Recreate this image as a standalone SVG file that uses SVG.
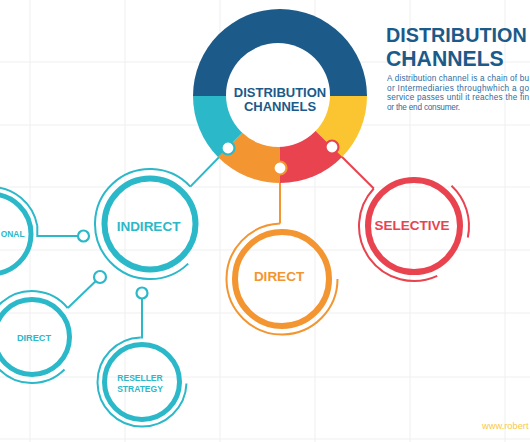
<svg xmlns="http://www.w3.org/2000/svg" width="530" height="442" viewBox="0 0 530 442">
<style>
.grid line{stroke:#efefef;stroke-width:1}
.lbl{font-family:"Liberation Sans",Arial,sans-serif;font-weight:bold;text-anchor:middle}
.thick{fill:none;stroke-width:6}
.thick5{fill:none;stroke-width:5}
.thin{fill:none;stroke-width:2}
.conn path{fill:none;stroke-width:2}
.sock{fill:#fff;stroke-width:2.2}
.cy{stroke:#2bb8c9}
.or{stroke:#f39530}
.rd{stroke:#e8434f}
.desc{font-family:"Liberation Sans",Arial,sans-serif;font-size:8.2px;fill:#2f6b9e}
.ttl{font-family:"Liberation Sans",Arial,sans-serif;font-weight:bold;font-size:21.2px;fill:#1b5a89}
</style>
<rect width="530" height="442" fill="#ffffff"/>
<g class="grid">
<line x1="30" y1="0" x2="30" y2="442"/><line x1="125" y1="0" x2="125" y2="442"/><line x1="220" y1="0" x2="220" y2="442"/><line x1="315" y1="0" x2="315" y2="442"/><line x1="410" y1="0" x2="410" y2="442"/><line x1="505" y1="0" x2="505" y2="442"/>
<line x1="0" y1="62" x2="530" y2="62"/><line x1="0" y1="125" x2="530" y2="125"/><line x1="0" y1="187" x2="530" y2="187"/><line x1="0" y1="250" x2="530" y2="250"/><line x1="0" y1="313" x2="530" y2="313"/><line x1="0" y1="377" x2="530" y2="377"/><line x1="0" y1="439" x2="530" y2="439"/>
</g>
<g id="connectors" class="conn">
<path class="cy" d="M228 148 L190.3 186.6"/>
<path class="or" d="M280 168 V223.5"/>
<path class="rd" d="M332 147 L373.8 188.5"/>
<path class="cy" d="M37.3 225.8 V236 H78"/>
<path class="cy" d="M100 277 L67.75 308.05"/>
<path class="cy" d="M142 293 V337.5 L140.45 337.53"/>
<circle class="sock cy" cx="83.5" cy="236" r="5.5"/>
<circle class="sock cy" cx="100" cy="277" r="6"/>
<circle class="sock cy" cx="142" cy="293" r="5.5"/>
</g>
<g id="hub">
<path fill="#1b5a89" d="M280 96 L193 96 A87 87 0 0 1 367 96 Z"/>
<path fill="#fbc531" d="M280 96 L367 96 A87 87 0 0 1 342.05 156.95 Z"/>
<path fill="#e8434f" d="M280 96 L342.05 156.95 A87 87 0 0 1 280 183 Z"/>
<path fill="#f39530" d="M280 96 L280 183 A87 87 0 0 1 217.95 156.95 Z"/>
<path fill="#2bb8c9" d="M280 96 L217.95 156.95 A87 87 0 0 1 193 96 Z"/>
<circle cx="278" cy="95" r="52" fill="#fff"/>
<circle class="sock cy" cx="228" cy="148" r="6.5"/>
<circle class="sock or" cx="280" cy="168" r="6.5"/>
<circle class="sock rd" cx="332" cy="147" r="6.5"/>
<text class="lbl" x="280" y="96.7" font-size="13" fill="#1b5a89">DISTRIBUTION</text>
<text class="lbl" x="280" y="111" font-size="13" fill="#1b5a89">CHANNELS</text>
</g>
<g id="indirect">
<circle class="thick cy" cx="150" cy="224" r="45.5"/>
<path class="thin cy" d="M190.3 186.6 A55 55 0 1 0 188.2 263.6"/>
<text class="lbl" x="148.5" y="231" font-size="13.5" fill="#2bb8c9">INDIRECT</text>
</g>
<g id="traditional">
<circle class="thick5 cy" cx="-9" cy="234" r="40"/>
<path class="thin cy" d="M-55.3 225.8 A47 47 0 0 1 37.3 225.8"/>
<text class="lbl" x="24.5" y="237" font-size="8.4" fill="#2bb8c9" style="text-anchor:end">ONAL</text>
</g>
<g id="direct-small">
<circle class="thick5 cy" cx="32" cy="337" r="37.5"/>
<path class="thin cy" d="M67.75 308.05 A46 46 0 1 0 64.5 369.5"/>
<text class="lbl" x="34" y="341" font-size="9.2" fill="#2bb8c9">DIRECT</text>
</g>
<g id="reseller">
<circle class="thick5 cy" cx="142" cy="382" r="37.5"/>
<path class="thin cy" d="M140.45 337.53 A44.5 44.5 0 1 0 186.47 383.55"/>
<text class="lbl" x="140" y="381" font-size="8.5" fill="#2bb8c9">RESELLER</text>
<text class="lbl" x="140" y="392" font-size="8.5" fill="#2bb8c9">STRATEGY</text>
</g>
<g id="direct">
<circle class="thick or" cx="282" cy="279" r="47"/>
<path class="thin or" d="M280.06 223.53 A55.5 55.5 0 1 0 337.5 279"/>
<text class="lbl" x="279" y="281" font-size="13.5" fill="#f39530">DIRECT</text>
</g>
<g id="selective">
<circle class="thick rd" cx="414" cy="226" r="46"/>
<path class="thin rd" d="M373.78 188.49 A55 55 0 0 0 437.24 275.85"/>
<path class="thin rd" d="M451.51 185.78 A55 55 0 0 1 467.8 237.44"/>
<text class="lbl" x="412" y="229.5" font-size="13.5" fill="#e8434f">SELECTIVE</text>
</g>
<g id="title">
<text class="ttl" x="386" y="41.7" font-size="19.8" style="font-size:19.8px">DISTRIBUTION</text>
<text class="ttl" x="386" y="66">CHANNELS</text>
<text class="desc" x="387" y="81" textLength="142" lengthAdjust="spacing">A distribution channel is a chain of bu</text>
<text class="desc" x="387" y="90.7" textLength="142" lengthAdjust="spacing">or Intermediaries throughwhich a go</text>
<text class="desc" x="387" y="100.4" textLength="142" lengthAdjust="spacing">service passes until it reaches the fin</text>
<text class="desc" x="387" y="110" textLength="73" lengthAdjust="spacing">or the end consumer.</text>
</g>
<text x="482" y="429" font-family="Liberation Sans, Arial, sans-serif" font-size="9.3" fill="#f7c948">www.robert</text>
</svg>
